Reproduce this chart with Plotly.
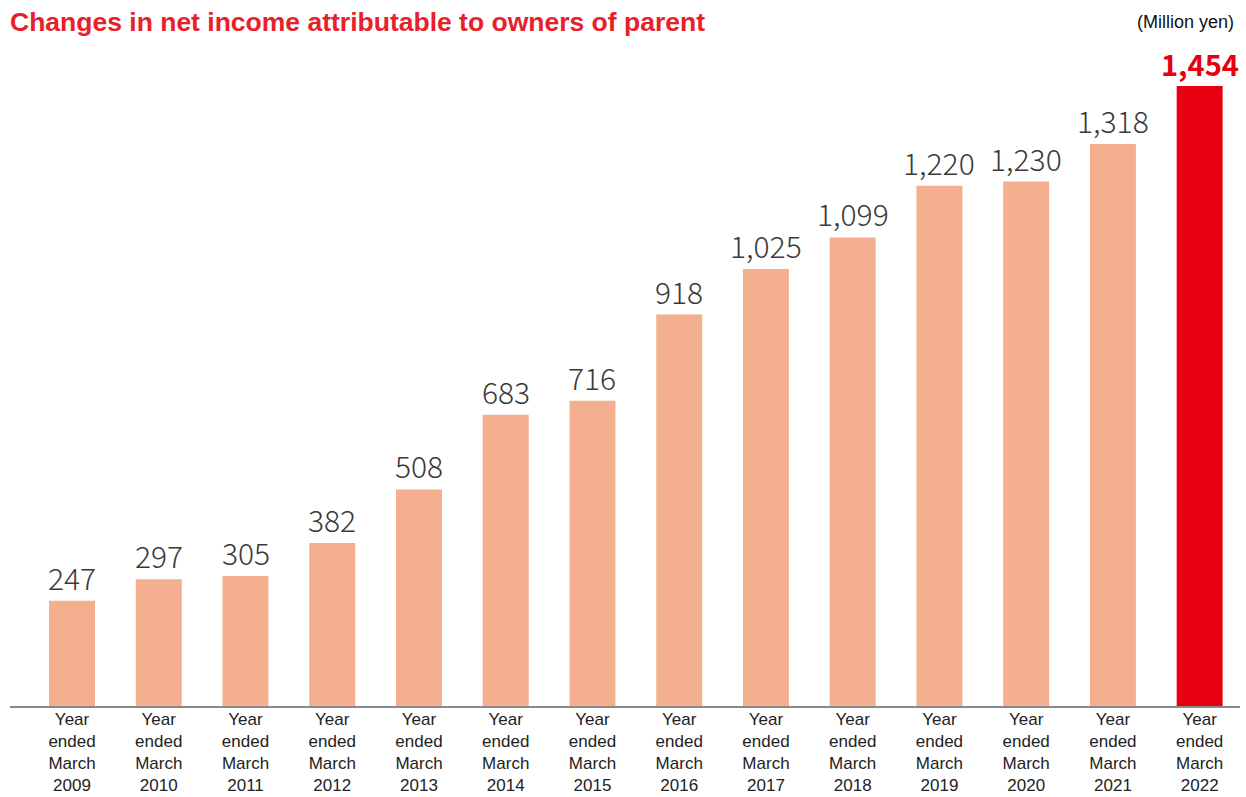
import plotly.graph_objects as go

categories = ["Year<br>ended<br>March<br>%d" % y for y in range(2009, 2023)]
values = [247, 297, 305, 382, 508, 683, 716, 918, 1025, 1099, 1220, 1230, 1318, 1454]
labels = ["247", "297", "305", "382", "508", "683", "716", "918", "1,025", "1,099", "1,220", "1,230", "1,318", "1,454"]

base_color = "#F4AF8E"
hi_color = "#E60012"
colors = [base_color] * (len(values) - 1) + [hi_color]

fig = go.Figure()
fig.add_trace(go.Bar(
    x=list(range(len(values))), y=values,
    marker=dict(color=colors, line=dict(width=0)),
    width=0.53, hoverinfo="skip",
))

for i, (v, lab) in enumerate(zip(values, labels)):
    last = i == len(values) - 1
    fig.add_annotation(
        x=i, y=v, text=lab, showarrow=False, yanchor="bottom", yshift=0,
        font=dict(family="Noto Sans CJK JP, Noto Sans, sans-serif",
                  size=30 if not last else 29,
                  color=hi_color if last else "#3a3a3a",
                  weight=700 if last else 300),
    )

fig.add_annotation(xref="paper", yref="paper", x=0, y=1, xanchor="left", yanchor="middle",
                   text="<b>Changes in net income attributable to owners of parent</b>",
                   showarrow=False, yshift=38, xshift=-2,
                   font=dict(family="Liberation Sans, Arial, sans-serif", size=26.5, color="#E8202A"))
fig.add_annotation(xref="paper", yref="paper", x=1, y=1, xanchor="right", yanchor="middle",
                   text="(Million yen)", showarrow=False, yshift=38, xshift=-4,
                   font=dict(family="Liberation Sans, Arial, sans-serif", size=18, color="#111"))

fig.update_layout(
    template="none",
    width=1246, height=797,
    margin=dict(l=10, r=6, t=60, b=91, pad=0),
    paper_bgcolor="white", plot_bgcolor="white",
    showlegend=False,
    xaxis=dict(
        automargin=False,
        range=[-0.715, 13.465],
        tickmode="array", tickvals=list(range(len(values))), ticktext=categories,
        showgrid=False, zeroline=False, showline=True, linecolor="#8a8a8a", linewidth=1.5,
        ticks="", ticklabelstandoff=-3,
        tickfont=dict(family="Liberation Sans, Arial, sans-serif", size=17, color="#222"),
    ),
    yaxis=dict(automargin=False, range=[0, 1515], visible=False, showgrid=False, zeroline=False),
)

fig.write_html("out.html", config={"displayModeBar": False},
               post_script="document.body.style.margin='0';document.body.style.overflow='hidden';")
